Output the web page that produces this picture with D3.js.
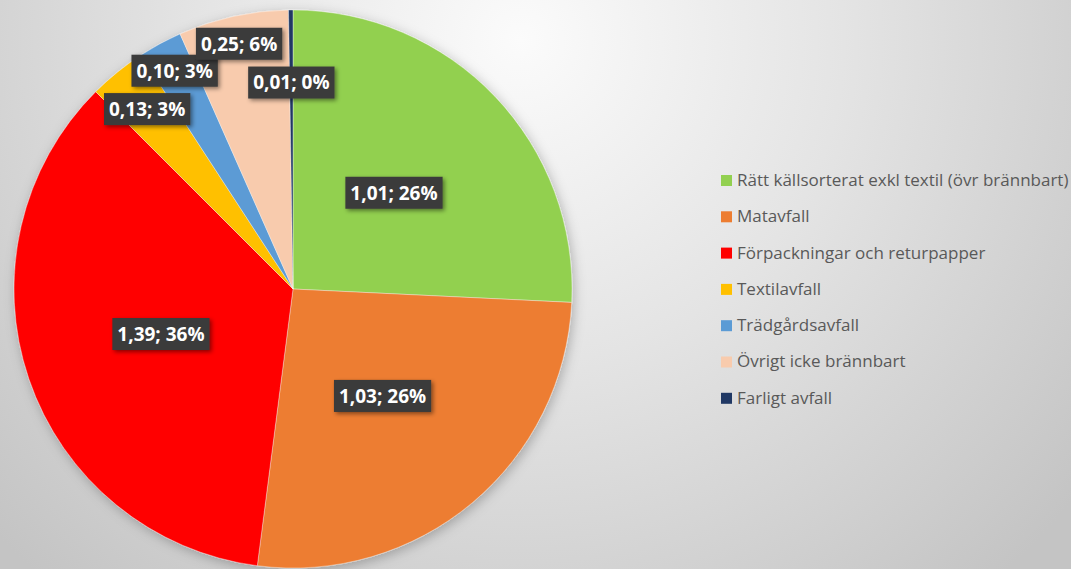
<!DOCTYPE html>
<html>
<head>
<meta charset="utf-8">
<style>
    body { margin: 0; overflow: hidden; }
    svg { display: block; }
    .label text {
        font-family: 'Open Sans', sans-serif;
        font-weight: 700;
        font-size: 19px;
        fill: #ffffff;
    }
    .legend text {
        font-family: 'Open Sans', sans-serif;
        font-size: 17px;
        fill: #595959;
    }
</style>
</head>
<body>
<svg width="1071" height="569"></svg>
<script src="https://d3js.org/d3.v7.min.js"></script>
<script>
    let categories = [
        "Rätt källsorterat exkl textil (övr brännbart)",
        "Matavfall",
        "Förpackningar och returpapper",
        "Textilavfall",
        "Trädgårdsavfall",
        "Övrigt icke brännbart",
        "Farligt avfall"
    ]
    let values = [1.01, 1.03, 1.39, 0.13, 0.10, 0.25, 0.01]
    let percentLabels = ["26%", "26%", "36%", "3%", "3%", "6%", "0%"]
    let colors = ["#92d050", "#ed7d31", "#ff0000", "#ffc000", "#5b9bd5", "#f8cbad", "#203864"]

    let width = 1071
    let height = 569
    let cx = 293
    let cy = 289
    let radius = 279

    let svg = d3.select("svg")
    let defs = svg.append("defs")

    // background gradient, light at top centre, grey towards corners
    let bg = defs.append("radialGradient")
        .attr("id", "bg")
        .attr("gradientUnits", "userSpaceOnUse")
        .attr("cx", 520).attr("cy", 40).attr("r", 720)
    bg.append("stop").attr("offset", "0%").attr("stop-color", "#fbfbfb")
    bg.append("stop").attr("offset", "45%").attr("stop-color", "#e4e4e4")
    bg.append("stop").attr("offset", "100%").attr("stop-color", "#c4c4c4")

    svg.append("rect")
        .attr("width", width)
        .attr("height", height)
        .attr("fill", "url(#bg)")

    let shadow = defs.append("filter")
        .attr("id", "shadow")
        .attr("x", "-20%").attr("y", "-20%")
        .attr("width", "140%").attr("height", "140%")
    shadow.append("feDropShadow")
        .attr("dx", 2).attr("dy", 3)
        .attr("stdDeviation", 6)
        .attr("flood-color", "#000")
        .attr("flood-opacity", 0.25)

    let boxShadow = defs.append("filter")
        .attr("id", "boxshadow")
        .attr("x", "-20%").attr("y", "-30%")
        .attr("width", "140%").attr("height", "160%")
    boxShadow.append("feDropShadow")
        .attr("dx", 2).attr("dy", 2)
        .attr("stdDeviation", 2)
        .attr("flood-color", "#000")
        .attr("flood-opacity", 0.45)

    let color = d3.scaleOrdinal()
        .domain(categories)
        .range(colors)

    let pie = d3.pie()
        .sort(null)
        .value(d => d.value)

    let data = categories.map((c, i) => ({name: c, value: values[i], pct: percentLabels[i]}))
    let arcs = pie(data)
    let total = d3.sum(values)

    let arc = d3.arc()
        .innerRadius(0)
        .outerRadius(radius)

    let g = svg.append("g")
        .attr("transform", `translate(${cx}, ${cy})`)

    g.append("g")
        .attr("filter", "url(#shadow)")
        .selectAll("path")
        .data(arcs)
        .join("path")
        .attr("d", arc)
        .attr("fill", d => color(d.data.name))
        .attr("stroke", "rgba(255,255,255,0.45)")
        .attr("stroke-width", 0.8)

    // big slices get labels half way in, small ones near the rim (best fit)
    function labelRadius(d) {
        let share = d.data.value / total
        if (share < 0.01) return radius * 0.74
        if (share < 0.03) return radius * 0.89
        if (share < 0.05) return radius * 0.83
        if (share < 0.1) return radius * 0.9
        return radius * 0.5
    }

    let fmt = d3.format(".2f")

    let labels = g.selectAll(".label")
        .data(arcs)
        .join("g")
        .attr("class", "label")
        .attr("transform", d => {
            let r = labelRadius(d)
            let pos = d3.arc().innerRadius(r).outerRadius(r).centroid(d)
            return `translate(${pos[0]}, ${pos[1]})`
        })

    labels.append("rect")
        .attr("fill", "#3a3a3a")
        .attr("filter", "url(#boxshadow)")

    labels.append("text")
        .attr("text-anchor", "middle")
        .attr("dy", "0.36em")
        .text(d => fmt(d.data.value).replace(".", ",") + "; " + d.data.pct)

    labels.each(function () {
        let t = d3.select(this).select("text").node()
        let w = t.getComputedTextLength() + 10
        let h = 32
        d3.select(this).select("rect")
            .attr("x", -w / 2)
            .attr("y", -h / 2)
            .attr("width", w)
            .attr("height", h)
    })

    // legend
    let legend = svg.append("g")
        .attr("class", "legend")
        .attr("transform", "translate(721, 180)")

    let rows = legend.selectAll("g")
        .data(categories)
        .join("g")
        .attr("transform", (d, i) => `translate(0, ${i * 36.3})`)

    rows.append("rect")
        .attr("x", 0)
        .attr("y", -5)
        .attr("width", 11)
        .attr("height", 11)
        .attr("fill", d => color(d))

    rows.append("text")
        .attr("x", 16)
        .attr("dy", "0.35em")
        .text(d => d)
</script>
</body>
</html>
